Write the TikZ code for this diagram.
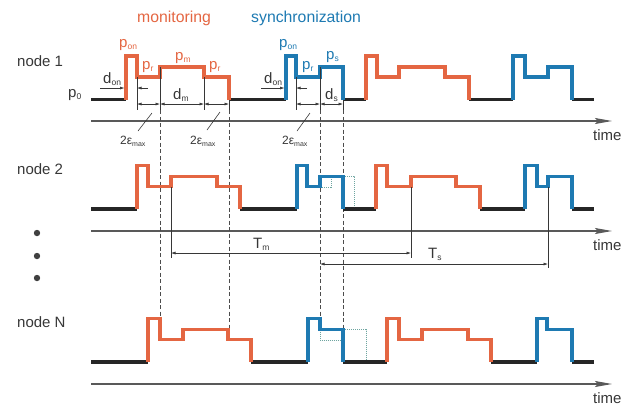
\documentclass[tikz,border=0pt]{standalone}
\usepackage{fontspec}
\setmainfont{Liberation Sans}
\usepackage{tikz}
\usetikzlibrary{arrows.meta}

\definecolor{monorange}{RGB}{228,102,66}
\definecolor{syncblue}{RGB}{30,122,178}
\definecolor{txtgray}{RGB}{55,55,55}
\definecolor{shiftgreen}{RGB}{110,165,160}

% letter with a small lowered index
\newcommand{\sub}[2]{#1\raisebox{-2.5pt}{\fontsize{8.5}{8.5}\selectfont #2}}
\newcommand{\twoeps}{{\fontsize{12}{12}\selectfont 2ε}\raisebox{-2pt}{\fontsize{7}{7}\selectfont max}}

% monitoring burst: rise, end of p_on, end of p_r, end of p_m, fall, baseline
\newcommand{\monblock}[6]{%
\draw[wave,monorange] (#1,#6) -- ++(0,-43.5) -| (#2,#6-22.5) -| (#3,#6-32.5) -| (#4,#6-22.5) -| (#5,#6);}
% sync burst: rise, end of p_on, end of p_r, fall, baseline
\newcommand{\syncblock}[5]{%
\draw[wave,syncblue] (#1,#5) -- ++(0,-43.5) -| (#2,#5-22.5) -| (#3,#5-32.5) -| (#4,#5);}

\begin{document}
\begin{tikzpicture}[x=1pt,y=-1pt,
  wave/.style={line width=3.1pt},
  idle/.style={wave,black!85},
  dimline/.style={txtgray,line width=0.6pt},
  dimarrow/.style={dimline,{Latex[length=4.5pt,width=3pt]}-{Latex[length=4.5pt,width=3pt]}},
  onearrow/.style={dimline,-{Latex[length=4.5pt,width=3pt]}},
  guide/.style={black!70,line width=0.6pt,dash pattern=on 4pt off 2.5pt},
  shifted/.style={shiftgreen,line width=0.8pt,dash pattern=on 1pt off 1pt},
  timeaxis/.style={black!65,line width=1.1pt,-{Stealth[length=17pt,width=6pt,inset=3pt]}},
  lbl/.style={inner sep=0pt,anchor=base west,font=\fontsize{15}{15}\selectfont,txtgray}]
\useasboundingbox (0,0) rectangle (636,408);

\node[lbl,monorange,font=\fontsize{15.8}{16}\selectfont] (mon) at (137,22) {monitoring};
\node[lbl,syncblue,font=\fontsize{15.8}{16}\selectfont] (syn) at (251,22) {synchronization};

\node[lbl] (n1) at (17,66) {node 1};
\node[lbl] (n2) at (17,174) {node 2};
\node[lbl] (nN) at (17,327) {node N};
\foreach \y in {233,256,278}
  \fill[black!75] (37,\y) circle (3.2pt);

% time axes
\foreach \y/\t [count=\i] in {121/140,231/250,384/403}{
  \draw[timeaxis] (91,\y) -- (612,\y);
  \node[lbl] (time\i) at (593,\t) {time};
}

% dashed guides through all nodes
\draw[guide] (160,110) -- (160,318.5);
\draw[guide] (229,110) -- (229,329.5);
\draw[guide] (320,110) -- (320,318.5);
\draw[guide] (343,110) -- (343,329.5);

%%% node 1
\draw[idle] (91,99.5) -- (126,99.5) (229,99.5) -- (286,99.5) (343,99.5) -- (366,99.5)
  (469,99.5) -- (513,99.5) (572,99.5) -- (594,99.5);
\monblock{126}{137}{160}{204}{229}{99.5}
\syncblock{286}{296}{320}{343}{99.5}
\monblock{366}{377}{399}{445}{469}{99.5}
\syncblock{513}{525}{548}{572}{99.5}

\node[lbl] (p0) at (68,97) {\sub{p}{0}};
\node[lbl,monorange] (pon1) at (119,47) {\sub{p}{on}};
\node[lbl,monorange] (pr1) at (142,69) {\sub{p}{r}};
\node[lbl,monorange] (pm1) at (175,60) {\sub{p}{m}};
\node[lbl,monorange] (pr2) at (209,69) {\sub{p}{r}};
\node[lbl,syncblue] (pon2) at (279,47) {\sub{p}{on}};
\node[lbl,syncblue] (pr3) at (302,69) {\sub{p}{r}};
\node[lbl,syncblue] (ps1) at (326,59) {\sub{p}{s}};

% extension lines
\draw[dimline] (137,77) -- (137,110) (160,67) -- (160,110) (204,77) -- (204,110)
  (229,99.5) -- (229,110) (296,77) -- (296,110) (320,67) -- (320,110) (343,99.5) -- (343,110);

% durations
\draw[onearrow] (100,88) -- (124.5,88);
\draw[onearrow] (148,88) -- (137,88);
\draw[onearrow] (261,88) -- (284.5,88);
\draw[onearrow] (307,88) -- (296,88);
\draw[dimarrow] (137,104) -- (160,104);
\draw[dimarrow] (160,104) -- (204,104);
\draw[dimarrow] (204,104) -- (229,104);
\draw[dimarrow] (296,104) -- (320,104);
\draw[dimarrow] (320,104) -- (343,104);

\node[lbl] (don1) at (103,83) {\sub{d}{on}};
\node[lbl] (dm) at (173,99) {\sub{d}{m}};
\node[lbl] (don2) at (264,83) {\sub{d}{on}};
\node[lbl] (ds) at (325,99) {\sub{d}{s}};

\node[lbl] (eps1) at (120,144) {\twoeps};
\node[lbl] (eps2) at (190,144) {\twoeps};
\node[lbl] (eps3) at (282,144) {\twoeps};
\draw[dimline] (152,113) -- (138,131);
\draw[dimline] (220,112) -- (207,130);
\draw[dimline] (310,113) -- (297,131);

%%% node 2
\draw[shifted] (320,187) -- (331,187) -- (331,176) -- (354,176) -- (354,209);
\draw[idle] (91,209) -- (137,209) (240,209) -- (297,209) (343,209) -- (376,209)
  (480,209) -- (525,209) (572,209) -- (594,209);
\monblock{137}{148}{171}{217}{240}{209}
\syncblock{297}{307}{320}{343}{209}
\monblock{376}{387}{411}{456}{480}{209}
\syncblock{525}{537}{548}{572}{209}

% periods
\draw[dimline] (171,187) -- (171,258) (411,187) -- (411,258);
\draw[dimarrow] (171,253) -- (411,253);
\node[lbl] (Tm) at (253,248) {\sub{T}{m}};
\draw[dimline] (548,187) -- (548,268);
\draw[dimarrow] (320,264) -- (548,264);
\node[lbl] (Ts) at (428,258) {\sub{T}{s}};

%%% node N
\draw[shifted] (320,329.5) -- (320,340) -- (343,340) (343,329.5) -- (366,329.5) -- (366,362);
\draw[idle] (91,362) -- (148,362) (251,362) -- (308,362) (343,362) -- (387,362)
  (491,362) -- (537,362) (572,362) -- (594,362);
\monblock{148}{160}{183}{228}{251}{362}
\draw[wave,syncblue] (308,362) -- ++(0,-43.5) -| (320,329.5) -| (343,362);
\monblock{387}{399}{422}{468}{491}{362}
\draw[wave,syncblue] (537,362) -- ++(0,-43.5) -| (547,329.5) -| (572,362);

\end{tikzpicture}
\end{document}
